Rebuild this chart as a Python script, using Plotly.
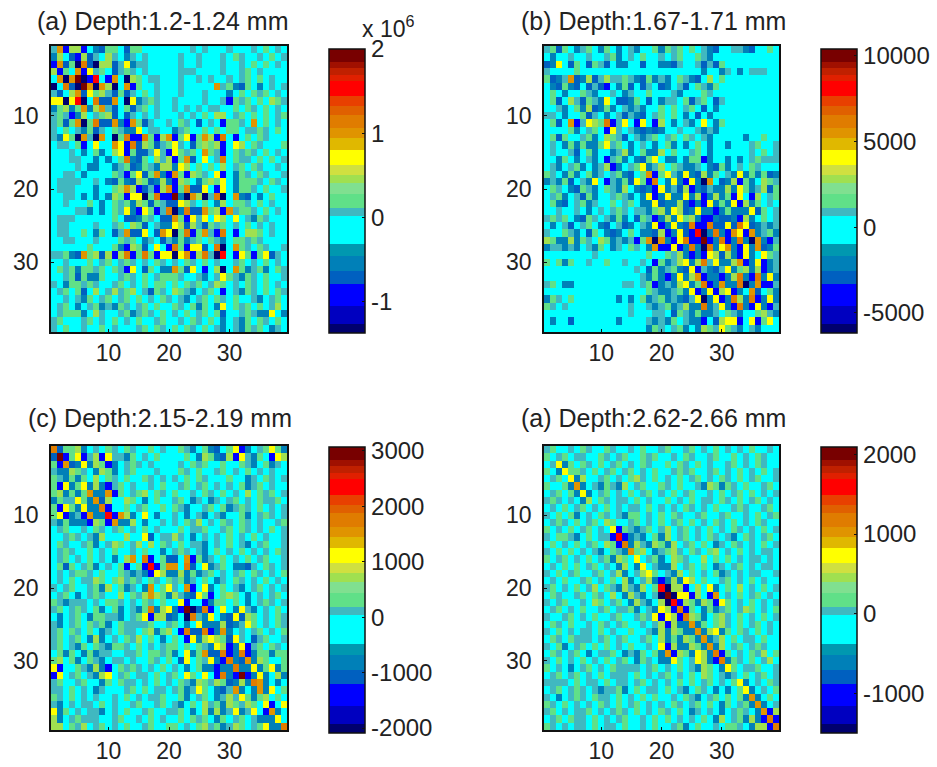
import plotly.graph_objects as go

W, H = 937, 767
TICKS = [10, 20, 30]
TITLES = ["(a) Depth:1.2-1.24 mm", "(b) Depth:1.67-1.71 mm", "(c) Depth:2.15-2.19 mm", "(a) Depth:2.62-2.66 mm"]
Z_LIMITS = [(-1.37, 2.0), (-6180, 10400), (-2090, 3070), (-1490, 2090)]
CBAR_TICKS = [[-1, 0, 1, 2], [-5000, 0, 5000, 10000], [-2000, -1000, 0, 1000, 2000, 3000], [-1000, 0, 1000, 2000]]

LEVELS = dict(D=.03, B=.12, b=.19, n=.25, c=.33, t=.425, g=.47, l=.555, y=.62, o=.70, O=.76, r=.84, R=.97)

PANEL_A = [
"toBllBcnbg gcbggccccc ccctctccct ccctcgctc",
"nlcbBlbtcl tcntctcccc ctcctccctc gtcctcgct",
"BobgDObDll btynttcccc ctcctccctc ctcgcgctc",
"lBgcoBytgc btgtctcccc ctttcccctc ctgctcccc",
"coDoRDBrcB ocDlgcttcc ctcctctcct ctgcgctcc",
"DcObDRoDol DcoBgcctcc ctcccccotg nbgcnctct",
"tbclobyglt bgbtcgctcc ctccctcccn cgcgtgctc",
"yyDyrDcObb ocDyntgtcc tcccctcctBg tgcgclgtc",
"nglngonlot bcgbtgctcc tctctcttcc gcgtcgctc",
"tgtBnlctgl bcbtctctcc ctctcgcllc tgcgcgctg",
"tgbgoDgObb onBogbtcct cgtcbctcBg gtcocgctc",
"tcgctngbtc gtnnycttcc ntgccgcgcg gcttgtcgc",
"tnygDotDoc DgOBBOgBlo BgyBgolBOc Bcgcgtccc",
"cttcgBcycc oyBOblgbtg ytcbglglBc ylcgtcccg",
"ccctcncgnc lyBgbbtytB ygtgcogtBc gtgtcgctc",
"cccttccncn cgOnbgcltl BgobcyctOc gttcgcgct",
"cccctcnncc ntgbngtnll nylcgcgclc tgcgtcctc",
"ccttcncccc gtBgybgonB ogBlgtcyBc ngtcgtcct",
"cttttcctcn bgnblgbnln Blgcnglgyc ngggtcgtc",
"ctttcccncc glolBbtBlo BgobbycByc nggtcgcct",
"ccttcncncn lgByyDgOBB RnDolDtODc onbcncgcc",
"cctcccgcnc gtgnlgbgtb byltcgcnlc ggtcgctcc",
"ccccttncnc gtynBygBtO DnObboglBo tggtcgctc",
"ctttcccccc gcbbngtcbb ogBytycylc yctngtccc",
"cttcccctcc tgclgbctnn ylbltbgtgc tcgctctcc",
"cttccgcngc btobbycboy DgOBgotBOc Bcllgctcc",
"ccttccctcc cgtgcntcbt ngntgcgtnc ggtgtcccc",
"ccccccgccc gnBlgbcycB OgByybcODc ogtcgtcct",
"ttgnboglbl BlOBgOgByy DyoBlOtDrc BygBgybtc",
"cctcccgctg ctgtctcgtc tcgtcgctcc tgctcgctc",
"cgtgnggtgc gtBycbgcnn ogbycBclDc ogntgncgt",
"cctgbgnngc ctgtcgctgg gtcctnctyg tngtcgcct",
"tcnggtgtcc tgctcgcggc gcgtgctlgc tcgtcgctc",
"ctgcgbclct ltglctbgtc lgtnctgcBc tngtcgcgt",
"cctctngctg ctgcgctcgt ctnctgcgtc gcctnctgc",
"ctgcnctgnt ngtctgcgcc gtcgngcnyc gtgcgctlc",
"ctgggncltc ctgntgtcgc tcgctgcgbc ctgtnnycn",
"tgccctgctc gctcgcctgc ctcgtcgcnc tngcgtcgc",
"tcgcctccgc tccctgcgtc gcgtcgctnc tngtgcntc",
]

PANEL_B = [
"tgbgcntgcn gcnctnccgn gtgcgctnbc cttnbccgc",
"cncctcctcc tgnctcgcct ctgccgtncc ccccccccc",
"bnycbgcbgt bcnnccbccn nbtcctbtbg ccccccccc",
"tccccgcccc cccccccccc ccccccnccn tcnctttcc",
"gbntobnlbt lttgtnbgnt ncgtnbclcg ccccccccc",
"cnbgnbcbtb Bcngbcbtcb nctbcgtngc ccccccccc",
"cgcnccgtnc ctcntccgcc ctncccgtcc ccccccccc",
"cgbcltbgtn ycbbngcbcn ttcgbtgcbt ccccccccc",
"cctncgnlbn gnctntnccg cgctgcbcnc ccccccccc",
"ttcnccgbtc nctbtnbctg cgcncbcncc ccccccccc",
"cgbcoBtylg OBtycBycBl cnctncycng ccccccccc",
"ccccgnctgc Bytctnbnbn cctcctntnc ccccccccc",
"cgbgcctgnc lgtbctntgc tgcgtctncc cccnccgcc",
"ctcngngnng ytgcnctcnc gncncgcncc nccctgcct",
"ctcctbcgnc cntlncgnnl cgcctgcncc cccctcgct",
"ccngcnctnc Btgncnbgyc nncnggBncc ncnctgttt",
"ctnctgncnt lBnctgyntl cgtnntcnbg nctcgtccc",
"gtcngncgnt ctgnbcgoBg ytnynblngc tnyngngbn",
"ntngbctnyc BtngbygBOc nynBynDocb nlBgnclgt",
"cgtcnbgtnc gtnlcnbnBy ntblBnbtnn lnygntlbg",
"ctgnctbgnc ctgtncnyBn ynnynlBnln gBycBlctg",
"cgnbctgntc cgctgcnnyb nnlbBnByng nyBlngctc",
"cctcctcnct ctgtcttngl nylbnynnBn gnnnybgct",
"tgtgcnbgtc tngncbgtBn lnyglnBBnb bnBlncgct",
"cnctbctgcn bctbnctnyB nynbOBBObb ybOybntnt",
"tccgtncbgc nbncgcnnbl BnybBrDnOn BoyBontgn",
"lgnnlngtcl gntntBgoDo nByOBBRBnO BnOnDonBt",
"nttntnctng cntcgtcnoB ByBnOnDOny onBynobng",
"cccccccctc cccccccgcc gtlnBnBylb lnByncygt",
"gcgngcctcc gcctcctcBg ntlynlOtyn nloBnyBnt",
"cccccccccc ccccctcbgn tgnbyBtnbt ynglnlBnt",
"cccccccccc cccccctngn BnynloBnnB nlOnBOnyn",
"tgcnnccccc cccttctgBn tnlyngOBno nnODnoBBt",
"cccccccccc cccccccgtn ntgnyBnyBl yBncobcgn",
"ngtcgccccc ccncncgntg ntnbtyDnyB nOlnOBnyn",
"gtctcccccc cccctcctnt gntlnnOnty nBOnBynBt",
"cccccccccc cccctccctt cbgtngnntc gtnccgltn",
"cnccbccccc ccncccctnt ngctnnBcbl yyBcyBgyc",
"cccccccccc cccccccngt ctgncnlgty gtnctnccc",
]

PANEL_C = [
"Obgglnctcg tcgtccgctc cgtncgnbcg yBnctgygn",
"bRBgyBtlBy ttngctcgcc ccgcnlgnbl BytngcByl",
"gBobnynlgB nctgtctccc ctcgtgccgc cgtncgntc",
"tnnlgtcnlg nctgccctcc cgtcgcctgc tcgctctcc",
"gtngngclcg tcgccgtctc tcgcgtcccg ccntcgtct",
"gByngynlnB tgctcctcgc ctgctgctct cgntgctcc",
"glngngonno Bgctglcgtc gcctcgtcgc tclcgtgct",
"ngttygnobl cclgcncgcc tgcntcntct gctcgttgc",
"gBygnynnOB ccgctgccgc gtncctgcgn tgtcgctct",
"gyBntBonnr Bolncycncc tcnctnctnc cgnctgtct",
"tngnnnBlgB onnlcncctc tcgtlctcgt cgtctcctg",
"ctgcctcgtc tgctcgctcc cgcttgcctg cgtctcgct",
"cctgtctnlc cclccybctt ltcnctctcg ctcgctcct",
"cgtcctgnct lgctlclcgt cgcttnctcg ctnctgcct",
"ctgtccgctc gcctcgccnc tgtctncgct cgctctcgt",
"ctgctcgctc nclocOBcgb bcoBgntcgc tcgctgcct",
"cgbgctgnct cgBcgBrBgo ocObcyntgc nnbtcgtct",
"ctctggtcgc cgtntnByln nlngntgctc tgcgtctcg",
"ctcgcttlgc gltgtcgtcg tgntcgcntc gtctcgctc",
"tctgcctgnl cgntcnocgy tcoBcyncgc tnctgctct",
"ctgcnctgtc clcgtlolgn ltnbygBcgl gcnctctgc",
"gtntttctcg gtctcgtcgc cyBccBnggc gcnctgtct",
"tgctgtcgnc gnctngOnly nBRDbOBcyc nytnctcgc",
"cnctgcnggt tnctgyBllb ncDOtnycnb yblgctcgt",
"tnctgcgtgn cgttttgcct gcncynnnlb ntygctcgt",
"tgcgtcgcnt cgttcglngl cBObbOBnon ctctgctcg",
"tgctgcnlnc tcgtlcgcnc gcBynlylgb ytcbtgcct",
"tgctngcgtn ggtcgctctg gcgcgtnylB nyBtgcgtc",
"cgngcngntt ccttgcggtg ncyngobbOB nOBnggngg",
"glcgncgtnc ttctccgtcg cbycgtynBO nbonlgccg",
"yBccgtnlnB cgtgtctcgc tcncgnnBnn Onnyngyng",
"Byctgctnly ctgcttcgct gcygcycBOn BRBnyncln",
"tgcctgccng cgttctcgct cgtnlgtlgb nlnOoncnc",
"ttcgctcntc cctgcgcttc tgntygcnbt oncnonycg",
"gtcgctctcc tcgctcttgc cgnctgcntl tygnglcgc",
"tnctcttcgc tcctgcctgc tncgcltgnl gtlgcyBcy",
"yngctcttnc tcgcctgcct tgcnclnlnt yntycBonc",
"lnctgtttcc tgcctcgctc cgcgtgcngc tgctnnnyc",
"llcgtlctgc tcgcctgccg gctcgltgnt lgctgynnO",
]

PANEL_D = [
"tgcctcgtcc gtcctcgcct gcctgctcgc tctcgcctc",
"gctgcttccg tctgccgtgc ctcgtcctgc cgctcgtcc",
"ctyngcgtcg ctgctcgtcc gcgtcgctcc tgctcgtcc",
"gcnyggtcgc tgctgctcgc ctgtgcctgc tcgctcgct",
"ctgcynlcct gctcgltcgc tcgctgctcg tcgctgcct",
"gccgnonctn gtnlctgccg tcgcctnlgn gtcgcctgc",
"ctgcgnynct gctcgctgct cgctgcctcg ctgcgctct",
"tgtctcnlcg tcttcgctcc gctcgcttcg tcgctgctc",
"ctcgctgctc gctcttcgct ctcgtctcgc ctgtcctgc",
"tcgcgnctcg tctnggctcg cgtcctgcct gcctcgctg",
"ctgtcgctgc lgcctgctcg ctgcgctcgt cgctcgtcc",
"gctcgctgct cyBgtntgct lctgctcgct cgtctcgct",
"tcggtncgct tBrBntncgn lctgctcgtc tncgtctgc",
"cgctcgctgc lgBOnltnlg nlctgcgcnt cgtctcgct",
"tcgcgctctn cgtnoglcnt gltcgtcglc tcgctcttc",
"gctgctcgct gnlgcyctgn clgtcclcgc gctcttctc",
"ctcgcgctgc tcnlcnyctn nlctgcgcnt ctgctcttc",
"tcgctgcctg ctlnctlygc tnlcgctcgn tctcttcct",
"ctcgcctgct cgclnctlnB nlnylcgcct gctcgctcc",
"tgctcgctlc gtnltnlcgr DllBclcync gclctcgct",
"cgtcctgcgt clcnltnctD RDyyBlcBoc tcgctgctc",
"tctgcctclg ctgcnltncl DrBlgnlgBy gctcgctct",
"ctgctcgcct gcttgnctny lBOBgcngnt gctlgctcg",
"tcctgctcgc ctgcctgtyB ylBOlgncgl tcgctcgct",
"cgtcgcctcg tctgcctctl Blnnongcgl tcgctgctc",
"tcgctcttcg ctccgcctnl nlgnnonlyn gcgtcgctc",
"cgtcgtttct gctgcctgcl ngnlgnontl cgcttcgcc",
"tcgnctgcgc gctcgcctcy Blnnlgnonl ctgctgtcc",
"cgtctgcnct tgcntngcgn oBlgnylnOB gctcgtlcg",
"tcgctcgctc gctgcngtcn nygctylnBO ngtcgctlc",
"gctcnctgct cgttttctgc tcgctnlgcn ygcttgcct",
"ctgctgctcg ctttcgctct gctcgclgct ntcgctgct",
"ttttcgcttc gcttctgctc tcgcgctgct cgynctcgt",
"ctgctgtctn ttgncgcttc gctncgtcnc ncgynctcg",
"tcnctgtcgt tcgctcgcgc ctcgtnctgc gcgnoncgc",
"gtcgctctcg tcgctgctct cgtctgcgcn gctgnonct",
"tgctcttgct ctgtcgctcg tcgcntctcn ctgtcnoBl",
"ctgcgttcgc tctgcctcgc gctctcgcnl ctgnlnBOB",
"gtctcttcgc ttcgcctcgc ctgncgcctc ggtcnllBO",
]

PANELS = [PANEL_A, PANEL_B, PANEL_C, PANEL_D]

# colour-bar bands: (top edge as a share of the bar, colour), bottom to top
BANDS = [(.032, "#00006e"), (.096, "#0000c0"), (.172, "#0000ff"), (.219, "#0060c0"), (.272, "#0080b8"),
         (.312, "#0098b0"), (.412, "#00ffff"), (.441, "#40b8c0"), (.488, "#60e088"), (.529, "#80e090"),
         (.558, "#a0e050"), (.593, "#d0e040"), (.646, "#ffff00"), (.687, "#e0b800"), (.722, "#e09400"),
         (.769, "#e07c00"), (.798, "#e06000"), (.833, "#e84000"), (.889, "#ff0000"), (.909, "#e02000"),
         (.933, "#c02000"), (.953, "#a01000"), (1.0, "#780000")]

scale = []
low = 0.0
for top, colour in BANDS:
    scale += [[low, colour], [top, colour]]
    low = top

PLOTS = [(51, 287, 46, 332), (544, 779, 46, 332), (51, 287, 446, 730), (544, 779, 446, 730)]
BARS = [(329, 49, 284), (821, 49, 284), (329, 447, 286), (821, 447, 286)]
TITLE_POS = [(35, 21), (519, 21), (26, 418), (519, 418)]
INK = "#222222"
FONT = "Liberation Sans"

fig = go.Figure()
axes = {}
for i, (rows, (zmin, zmax), ticks) in enumerate(zip(PANELS, Z_LIMITS, CBAR_TICKS)):
    clean = [r.replace(" ", "").ljust(39, "c")[:39] for r in rows]
    z = [[zmin + LEVELS[ch] * (zmax - zmin) for ch in r] for r in clean]
    x0, x1, y0, y1 = PLOTS[i]
    bx, by, bl = BARS[i]
    n = i + 1
    fig.add_trace(go.Heatmap(
        z=z, x=list(range(1, 40)), y=list(range(1, 40)), xaxis=f"x{n}", yaxis=f"y{n}",
        zmin=zmin, zmax=zmax, colorscale=scale,
        colorbar=dict(x=bx / W, y=1 - by / H, xanchor="left", yanchor="top", xref="paper", yref="paper",
                      thickness=36, thicknessmode="pixels", len=bl, lenmode="pixels", xpad=0, ypad=0,
                      outlinecolor="#111111", outlinewidth=1.5, tickvals=ticks,
                      ticktext=[str(t) for t in ticks], ticks="inside", ticklen=3,
                      tickcolor="#111111", ticklabelposition="outside",
                      tickfont=dict(family=FONT, size=24, color=INK)),
    ))
    common = dict(tickvals=TICKS, ticks="inside", ticklen=3, tickcolor="#111111", showgrid=False, zeroline=False,
                  showline=True, linecolor="#111111", linewidth=1.5, mirror=True,
                  tickfont=dict(family=FONT, size=23, color=INK))
    axes[f"xaxis{n}"] = dict(domain=[x0 / W, x1 / W], anchor=f"y{n}", range=[0.5, 39.5], **common)
    axes[f"yaxis{n}"] = dict(domain=[1 - y1 / H, 1 - y0 / H], anchor=f"x{n}", range=[39.5, 0.5],
                             ticklabelstandoff=6, **common)

notes = [dict(text=t, x=px / W, y=1 - py / H, xref="paper", yref="paper", xanchor="left", yanchor="middle",
              showarrow=False, font=dict(family=FONT, size=25, color=INK))
         for t, (px, py) in zip(TITLES, TITLE_POS)]
notes.append(dict(text="x 10<sup>6</sup>", x=360 / W, y=1 - 27 / H, xref="paper", yref="paper", xanchor="left",
                  yanchor="middle", showarrow=False, font=dict(family=FONT, size=23, color=INK)))

fig.update_layout(width=W, height=H, margin=dict(l=0, r=0, t=0, b=0), paper_bgcolor="white",
                  plot_bgcolor="white", autosize=False, annotations=notes, **axes)
fig.write_html("out.html", post_script="document.body.style.margin='0';", config={"displayModeBar": False})
